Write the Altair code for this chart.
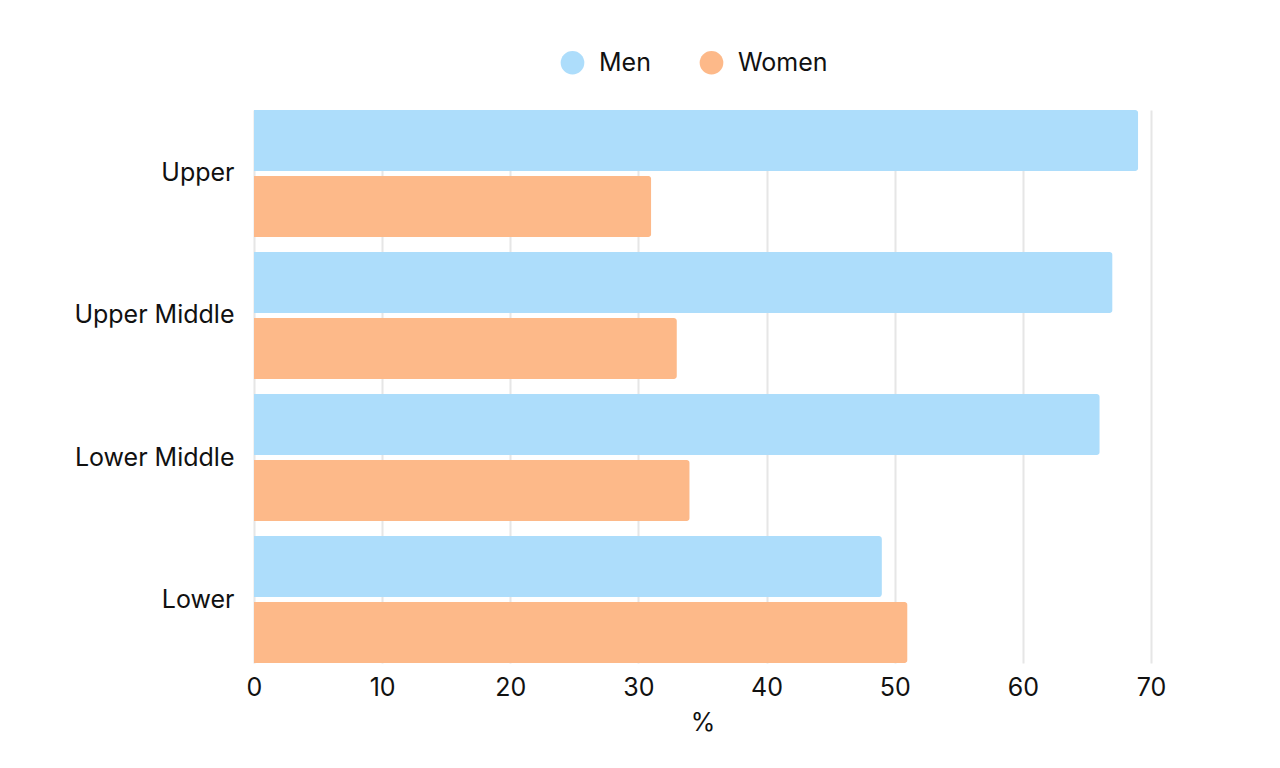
import altair as alt
import pandas as pd

categories = ["Upper", "Upper Middle", "Lower Middle", "Lower"]
men = [69, 67, 66, 49]
women = [31, 33, 34, 51]
groups = ["Men", "Women"]
colors = ["#ADDDFB", "#FDB989"]
x_ticks = [0, 10, 20, 30, 40, 50, 60, 70]

rows = []
for c, m, w in zip(categories, men, women):
    rows.append({"cls": c, "sex": "Men", "pct": m})
    rows.append({"cls": c, "sex": "Women", "pct": w})
df = pd.DataFrame(rows)

FONT = "Inter"
FS = 25

chart = alt.Chart(df).mark_bar(cornerRadiusEnd=3).encode(
    x=alt.X("pct:Q", title="%",
            scale=alt.Scale(domain=[0, 70], nice=False),
            axis=alt.Axis(values=x_ticks, grid=True, gridColor="#e6e6e6", gridWidth=2,
                          domain=False, ticks=False, labelPadding=12, labelFlush=False,
                          labelFontSize=FS, labelColor="#111", titleFontSize=FS,
                          titleFontWeight="normal", titleColor="#111", titlePadding=10,
                          labelFont=FONT, titleFont=FONT)),
    y=alt.Y("cls:N", title=None, sort=categories,
            scale=alt.Scale(paddingInner=0.106, paddingOuter=0),
            axis=alt.Axis(domain=False, ticks=False, labelPadding=20, labelFontSize=FS,
                          labelColor="#111", labelFont=FONT)),
    yOffset=alt.YOffset("sex:N", sort=groups,
                        scale=alt.Scale(paddingInner=0.076, paddingOuter=0)),
    color=alt.Color("sex:N", sort=groups,
                    scale=alt.Scale(domain=groups, range=colors),
                    legend=alt.Legend(title=None, orient="none", direction="horizontal",
                                      legendX=306, legendY=-60, symbolType="circle",
                                      symbolSize=560, symbolStrokeWidth=0, symbolOpacity=1,
                                      labelFontSize=FS, labelColor="#111", labelFont=FONT,
                                      labelOffset=14, columnPadding=48)),
).properties(
    width=897, height=553,
    autosize=alt.AutoSizeParams(type="none"),
    padding={"left": 246, "top": 102, "right": 100, "bottom": 100},
).configure_view(stroke=None)

chart.save("out.html", embed_options={"renderer": "svg", "actions": False})
